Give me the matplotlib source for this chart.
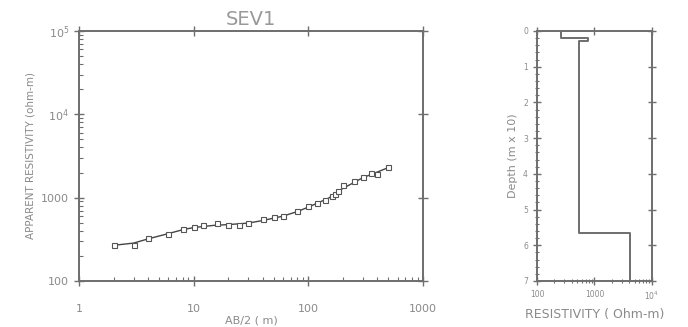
import matplotlib
matplotlib.use("Agg")
import matplotlib.pyplot as plt
from matplotlib.ticker import FixedLocator, FixedFormatter, LogLocator, NullFormatter, MultipleLocator

# ----- Sounding data (AB/2 in m, apparent resistivity in ohm-m) -----
ab2_obs = [2, 3, 4, 6, 8, 10, 12, 16, 20, 25, 30, 40, 50, 60, 80, 100,
           120, 140, 160, 170, 180, 200, 250, 300, 350, 400, 500]
rho_obs = [272, 268, 330, 363, 425, 445, 465, 500, 470, 470, 495, 550,
           592, 602, 695, 785, 862, 950, 1050, 1100, 1190, 1420, 1600,
           1760, 1960, 1930, 2310]

# fitted model curve
ab2_fit = [2, 3, 4, 6, 8, 10, 15, 20, 30, 40, 60, 80, 100, 150, 200, 300, 400, 500]
rho_fit = [268, 285, 320, 370, 412, 438, 465, 475, 495, 532, 600, 680, 770,
           985, 1290, 1740, 2030, 2300]

# ----- Layered model (resistivity in ohm-m, depth in m x 10) -----
layer_rho = [261, 760, 537, 4180]
layer_top = [0.0, 0.20, 0.29, 5.66]
model_bottom = 7.0

TEXT = "#8a8a8a"
LINE = "#6e6e6e"

fig = plt.figure(figsize=(6.88, 3.27), dpi=100)

# ----- Sounding curve -----
ax = fig.add_axes([0.1148, 0.1407, 0.5, 0.7645])
ax.set_xscale("log")
ax.set_yscale("log")
ax.set_xlim(1, 1000)
ax.set_ylim(100, 1e5)
ax.plot(ab2_fit, rho_fit, color="#444444", lw=1.0)
ax.plot(ab2_obs, rho_obs, ls="none", marker="s", ms=3.6, mfc="white",
        mec="#555555", mew=0.8)

ax.xaxis.set_major_locator(FixedLocator([1, 10, 100, 1000]))
ax.xaxis.set_major_formatter(FixedFormatter(["1", "10", "100", "1000"]))
ax.xaxis.set_minor_locator(LogLocator(base=10, subs=range(2, 10)))
ax.xaxis.set_minor_formatter(NullFormatter())
ax.yaxis.set_major_locator(FixedLocator([100, 1000, 1e4, 1e5]))
ax.yaxis.set_major_formatter(FixedFormatter(["100", "1000", r"$10^4$", r"$10^5$"]))
ax.yaxis.set_minor_locator(LogLocator(base=10, subs=range(2, 10)))
ax.yaxis.set_minor_formatter(NullFormatter())

ax.tick_params(which="major", direction="inout", length=7, width=1.0,
               color=LINE, labelcolor=TEXT, labelsize=8, top=True, right=True)
ax.tick_params(axis="x", which="major", pad=13)
ax.tick_params(which="minor", direction="in", length=3, width=0.8,
               color=LINE, top=False, right=False)
for s in ax.spines.values():
    s.set_color(LINE)
    s.set_linewidth(1.4)

ax.set_title("SEV1", fontsize=14, color="#999999", pad=4)
ax.set_xlabel("AB/2 ( m)", fontsize=8, color=TEXT, labelpad=1)
ax.set_ylabel("APPARENT RESISTIVITY (ohm-m)", fontsize=7.5, color=TEXT, labelpad=4)

# ----- Layered model -----
ax2 = fig.add_axes([0.7805, 0.1407, 0.167, 0.7645])
ax2.set_xscale("log")
ax2.set_xlim(100, 1e4)
ax2.set_ylim(model_bottom, 0)

xs, ys = [], []
for i, r in enumerate(layer_rho):
    bot = layer_top[i + 1] if i + 1 < len(layer_top) else model_bottom
    xs += [r, r]
    ys += [layer_top[i], bot]
ax2.plot(xs, ys, color=LINE, lw=1.4)

ax2.xaxis.set_major_locator(FixedLocator([100, 1000, 1e4]))
ax2.xaxis.set_major_formatter(FixedFormatter(["100", "1000", r"$10^4$"]))
ax2.xaxis.set_minor_locator(LogLocator(base=10, subs=range(2, 10)))
ax2.xaxis.set_minor_formatter(NullFormatter())
ax2.yaxis.set_major_locator(MultipleLocator(1))
ax2.yaxis.set_minor_locator(MultipleLocator(0.2))

ax2.tick_params(which="major", direction="inout", length=6, width=1.0,
                color=LINE, labelcolor=TEXT, labelsize=5.5, top=True, right=True)
ax2.tick_params(which="minor", direction="inout", length=3, width=0.8,
                color=LINE, top=False, right=False)
for s in ax2.spines.values():
    s.set_color(LINE)
    s.set_linewidth(1.4)

ax2.set_xlabel("RESISTIVITY ( Ohm-m)", fontsize=9, color=TEXT, labelpad=4)
ax2.set_ylabel("Depth (m x 10)", fontsize=8, color=TEXT, labelpad=4)

fig.savefig("out.png", dpi=100, facecolor="white")
